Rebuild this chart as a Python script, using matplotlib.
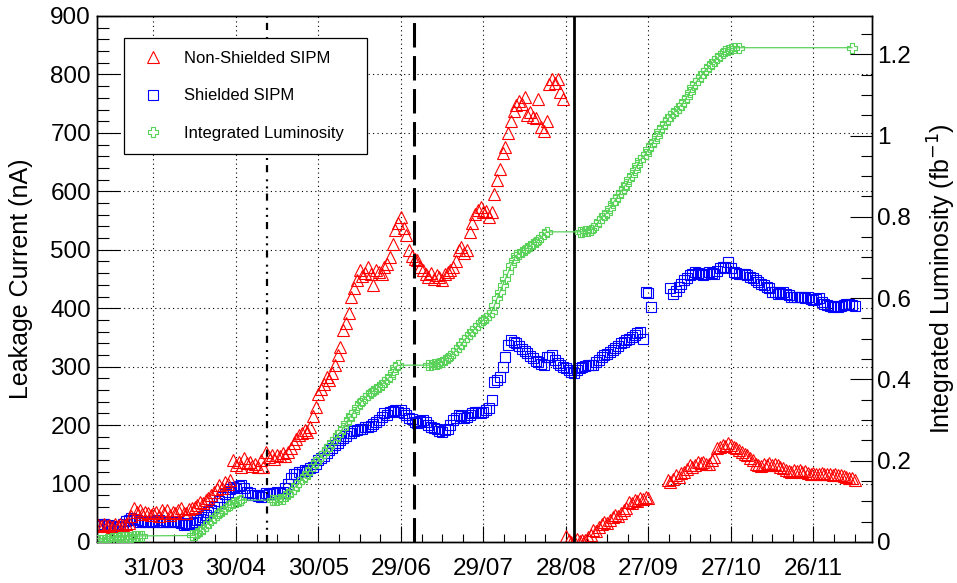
import matplotlib
matplotlib.use("Agg")
import matplotlib.pyplot as plt
from matplotlib.path import Path
from matplotlib.lines import Line2D
from matplotlib.ticker import MultipleLocator, FixedLocator, FuncFormatter

plt.rcParams['font.family'] = ['Liberation Sans', 'DejaVu Sans']

# ---------------- data (x = day of year 2011) ----------------
nonshielded_day = [
    70, 71, 72, 73, 74, 75, 76, 77, 78, 79, 80, 81, 82, 83, 84, 85, 86, 87, 88, 89,
    90, 91, 92, 93, 94, 95, 96, 97, 98, 99, 100, 101, 102, 103, 104, 105, 106, 107, 108, 109,
    110, 111, 112, 113, 114, 115, 116, 117, 118, 119, 120, 121, 122, 123, 124, 125, 126, 127, 128, 129,
    130, 131, 132, 133, 134, 135, 136, 137, 138, 139, 140, 141, 142, 143, 144, 145, 146, 147, 148, 149,
    150, 151, 152, 153, 154, 155, 156, 157, 158, 159, 160, 161, 162, 163, 164, 165, 166, 167, 168, 169,
    170, 171, 172, 173, 174, 175, 176, 177, 178, 179, 180, 181, 182, 183, 184, 185, 186, 187, 188, 189,
    190, 191, 192, 193, 194, 195, 196, 197, 198, 199, 200, 201, 202, 203, 204, 205, 206, 207, 208, 209,
    210, 211, 212, 213, 214, 215, 216, 217, 218, 219, 220, 221, 222, 223, 224, 225, 226, 227, 228, 229,
    230, 231, 232, 233, 234, 235, 236, 237, 238, 239, 240, 241, 242, 243, 244, 245, 246, 247, 248, 249,
    250, 251, 252, 253, 254, 255, 256, 257, 258, 259, 260, 261, 262, 263, 264, 265, 266, 267, 268, 269,
    270,
    277, 278, 279, 280, 281, 282, 283, 284, 285, 286, 287, 288, 289, 290, 291, 292, 293, 294, 295, 296,
    297, 298, 299, 300, 301, 302, 303, 304, 305, 306, 307, 308, 309, 310, 311, 312, 313, 314, 315, 316,
    317, 318, 319, 320, 321, 322, 323, 324, 325, 326, 327, 328, 329, 330, 331, 332, 333, 334, 335, 336,
    337, 338, 339, 340, 341, 342, 343, 344, 345]
nonshielded_nA = [
    29, 27, 30, 28, 29, 26, 30, 28, 31, 29, 30, 33, 45, 58, 52, 55, 48, 52, 50, 46,
    49, 52, 44, 55, 50, 55, 47, 52, 50, 54, 58, 50, 49, 56, 58, 60, 63, 69, 66, 72,
    75, 80, 86, 90, 97, 92, 103, 100, 106, 140, 132, 137, 128, 143, 135, 137, 130, 134, 128, 140,
    129, 154, 145, 149, 142, 149, 147, 152, 148, 154, 160, 170, 176, 183, 186, 191, 188, 197, 215, 231,
    254, 262, 270, 283, 277, 290, 302, 320, 334, 362, 375, 391, 419, 435, 448, 465, 455, 460, 470, 458,
    439, 465, 462, 458, 470, 475, 488, 510, 533, 545, 556, 537, 525, 500, 490, 485, 482, 470, 465, 458,
    453, 460, 450, 456, 453, 448, 458, 462, 465, 470, 480, 499, 505, 494, 500, 530, 545, 562, 568, 573,
    565, 567, 556, 565, 595, 620, 639, 665, 676, 700, 721, 738, 748, 755, 750, 761, 730, 735, 727, 725,
    758, 710, 704, 720, 784, 793, 785, 793, 770, 758, 10, 3, 0, 2, 5, 2, 4, 3, 8, 12,
    20, 18, 26, 30, 35, 33, 38, 42, 46, 44, 49, 55, 58, 69, 66, 72, 70, 75, 73, 77,
    75,
    106, 103, 108, 115, 112, 118, 120, 125, 132, 128, 132, 137, 135, 137, 133, 134, 140, 146, 160, 162,
    166, 164, 169, 166, 163, 160, 157, 154, 150, 149, 143, 140, 134, 132, 130, 134, 132, 135, 132, 134,
    131, 129, 126, 123, 121, 120, 123, 121, 123, 120, 122, 118, 117, 118, 117, 116, 118, 117, 116, 117,
    115, 116, 115, 114, 113, 112, 110, 109, 106]

shielded_day = [
    70, 71, 72, 73, 74, 75, 76, 77, 78, 79, 80, 81, 82, 83, 84, 85, 86, 87, 88, 89,
    90, 91, 92, 93, 94, 95, 96, 97, 98, 99, 100, 101, 102, 103, 104, 105, 106, 107, 108, 109,
    110, 111, 112, 113, 114, 115, 116, 117, 118, 119, 120, 121, 122, 123, 124, 125, 126, 127, 128, 129,
    130, 131, 132, 133, 134, 135, 136, 137, 138, 139, 140, 141, 142, 143, 144, 145, 146, 147, 148, 149,
    150, 151, 152, 153, 154, 155, 156, 157, 158, 159, 160, 161, 162, 163, 164, 165, 166, 167, 168, 169,
    170, 171, 172, 173, 174, 175, 176, 177, 178, 179, 180, 181, 182, 183, 184, 185, 186, 187, 188, 189,
    190, 191, 192, 193, 194, 195, 196, 197, 198, 199, 200, 201, 202, 203, 204, 205, 206, 207, 208, 209,
    210, 211, 212, 213, 214, 215, 216, 217, 218, 219, 220, 221, 222, 223, 224, 225, 226, 227, 228, 229,
    230, 231, 232, 233, 234, 235, 236, 237, 238, 239, 240, 241, 242, 243, 244, 245, 246, 247, 248, 249,
    250, 251, 252, 253, 254, 255, 256, 257, 258, 259, 260, 261, 262, 263, 264, 265, 266, 267, 268, 269,
    270, 271,
    278, 279, 280, 281, 282, 283, 284, 285, 286, 287, 288, 289, 290, 291, 292, 293, 294, 295, 296, 297,
    298, 299, 300, 301, 302, 303, 304, 305, 306, 307, 308, 309, 310, 311, 312, 313, 314, 315, 316, 317,
    318, 319, 320, 321, 322, 323, 324, 325, 326, 327, 328, 329, 330, 331, 332, 333, 334, 335, 336, 337,
    338, 339, 340, 341, 342, 343, 344, 345]
shielded_nA = [
    29, 27, 30, 28, 29, 26, 27, 28, 26, 30, 36, 38, 41, 40, 37, 35, 36, 34, 35, 36,
    34, 35, 37, 35, 34, 36, 35, 34, 36, 35, 33, 29, 31, 30, 32, 35, 38, 40, 43, 47,
    51, 55, 60, 66, 71, 77, 82, 86, 90, 94, 93, 96, 97, 92, 86, 84, 81, 80, 78, 77,
    80, 83, 82, 84, 83, 85, 84, 86, 92, 100, 110, 117, 116, 120, 119, 123, 122, 126, 129, 134,
    140, 143, 147, 152, 157, 161, 166, 170, 174, 178, 182, 186, 187, 190, 192, 194, 193, 196, 197, 199,
    202, 205, 209, 214, 220, 218, 222, 224, 226, 222, 226, 220, 217, 212, 210, 206, 204, 207, 209, 205,
    200, 197, 195, 194, 190, 189, 192, 194, 200, 209, 212, 217, 215, 212, 214, 218, 220, 222, 223, 221,
    223, 226, 230, 243, 274, 278, 283, 300, 317, 337, 345, 342, 340, 335, 331, 327, 323, 318, 314, 310,
    308, 305, 303, 317, 316, 320, 312, 306, 302, 300, 297, 294, 291, 290, 294, 297, 300, 301, 302, 303,
    303, 308, 312, 317, 320, 322, 325, 328, 332, 336, 340, 343, 345, 348, 351, 354, 357, 360, 348, 428,
    426, 402,
    434, 425, 430, 436, 442, 448, 452, 456, 459, 462, 460, 459, 456, 458, 462, 460, 459, 464, 468, 470,
    471, 479, 468, 462, 460, 459, 459, 458, 456, 453, 451, 448, 445, 441, 439, 436, 434, 428, 427, 425,
    426, 428, 424, 422, 420, 419, 419, 420, 419, 418, 419, 416, 414, 416, 417, 410, 408, 405, 404, 402,
    403, 402, 404, 405, 407, 408, 405, 404]

lumi_day = [
    70, 71, 72, 73, 74, 75, 76, 77, 78, 79, 80, 81, 82, 83, 84, 85, 86,
    104, 105, 106, 107, 108, 109, 110, 111, 112, 113, 114, 115, 116, 117, 118, 119, 120, 121, 122,
    133, 134, 135, 136, 137, 138, 139, 140, 141, 142, 143, 144, 145, 146, 147, 148, 149, 150, 151, 152,
    153, 154, 155, 156, 157, 158, 159, 160, 161, 162, 163, 164, 165, 166, 167, 168, 169, 170, 171, 172,
    173, 174, 175, 176, 177, 178, 179,
    190, 191, 192, 193, 194, 195, 196, 197, 198, 199, 200, 201, 202, 203, 204, 205, 206, 207, 208, 209,
    210, 211, 212, 213, 214, 215, 216, 217, 218, 219, 220, 221, 222, 223, 224, 225, 226, 227, 228, 229,
    230, 231, 232, 233,
    245, 246, 247, 248, 249, 250, 251, 252, 253, 254, 255, 256, 257, 258, 259, 260, 261, 262, 263, 264,
    265, 266, 267, 268, 269, 270, 271, 272, 273, 274, 275, 276, 277, 278, 279, 280, 281, 282, 283, 284,
    285, 286, 287, 288, 289, 290, 291, 292, 293, 294, 295, 296, 297, 298, 299, 300, 301,
    303, 344]
lumi_fb = [
    0.004, 0.005, 0.006, 0.007, 0.008, 0.009, 0.010, 0.011, 0.012, 0.012, 0.013, 0.013, 0.013, 0.014, 0.014, 0.015, 0.015,
    0.016, 0.018, 0.021, 0.026, 0.033, 0.040, 0.047, 0.054, 0.060, 0.066, 0.072, 0.077, 0.082, 0.088, 0.092, 0.096, 0.099, 0.101, 0.103,
    0.103, 0.103, 0.104, 0.105, 0.107, 0.112, 0.118, 0.124, 0.131, 0.139, 0.148, 0.155, 0.161, 0.170, 0.179, 0.188, 0.196, 0.203, 0.211, 0.219,
    0.228, 0.236, 0.245, 0.254, 0.262, 0.271, 0.281, 0.292, 0.303, 0.312, 0.321, 0.331, 0.341, 0.348, 0.355, 0.362, 0.367, 0.371, 0.376, 0.381,
    0.387, 0.393, 0.400, 0.407, 0.418, 0.430, 0.435,
    0.435, 0.436, 0.437, 0.438, 0.440, 0.443, 0.447, 0.452, 0.458, 0.465, 0.472, 0.479, 0.487, 0.496, 0.504, 0.512, 0.518, 0.526, 0.534, 0.540,
    0.546, 0.552, 0.558, 0.567, 0.582, 0.600, 0.615, 0.632, 0.647, 0.663, 0.682, 0.694, 0.705, 0.709, 0.714, 0.719, 0.723, 0.728, 0.733, 0.738,
    0.743, 0.750, 0.757, 0.763,
    0.763, 0.763, 0.764, 0.766, 0.768, 0.772, 0.780, 0.790, 0.797, 0.804, 0.810, 0.822, 0.833, 0.842, 0.852, 0.862, 0.872, 0.881, 0.893, 0.904,
    0.915, 0.928, 0.940, 0.947, 0.955, 0.966, 0.977, 0.987, 0.998, 1.010, 1.020, 1.030, 1.040, 1.049, 1.055, 1.061, 1.068, 1.076, 1.084, 1.095,
    1.107, 1.119, 1.128, 1.137, 1.146, 1.155, 1.162, 1.170, 1.177, 1.183, 1.190, 1.196, 1.202, 1.207, 1.211, 1.214, 1.215,
    1.216, 1.216]

tick_days = [90, 120, 150, 180, 210, 240, 270, 300, 330]
tick_labels = ["31/03", "30/04", "30/05", "29/06", "29/07", "28/08", "27/09", "27/10", "26/11"]
event_days = [131.2, 184.9, 242.8]

labels = ["Non-Shielded SIPM", "Shielded SIPM", "Integrated Luminosity"]

assert len(nonshielded_day) == len(nonshielded_nA)
assert len(shielded_day) == len(shielded_nA)
assert len(lumi_day) == len(lumi_fb)

# ---------------- style ----------------
RED = '#ff0000'
BLUE = '#0000ff'
GREEN = '#5ad25a'

w = 0.32
cross = Path([(-w, 1), (w, 1), (w, w), (1, w), (1, -w), (w, -w), (w, -1),
              (-w, -1), (-w, -w), (-1, -w), (-1, w), (-w, w), (-w, 1)],
             [Path.MOVETO] + [Path.LINETO] * 11 + [Path.CLOSEPOLY])

fig = plt.figure(figsize=(9.57, 5.83), dpi=100)
ax = fig.add_axes([97 / 957, 1 - 542 / 583, 775 / 957, 526 / 583])
ax2 = ax.twinx()

# grid
ax.grid(True, which='major', color='black', linestyle=(0, (1, 3)), linewidth=0.8)
ax.set_axisbelow(True)

ax.plot(shielded_day, shielded_nA, linestyle='none', marker='s', ms=7.4,
        mfc='none', mec=BLUE, mew=0.8, zorder=3)
ax.plot(nonshielded_day, nonshielded_nA, linestyle='none', marker='^', ms=8.0,
        mfc='none', mec=RED, mew=0.8, zorder=4)

# event lines
ax.axvline(event_days[0], color='black', lw=1.6,
           linestyle=(0, (3.2, 2.3, 0.9, 2.3, 0.9, 3.2)), zorder=5)
ax.axvline(event_days[1], color='black', lw=2.2, linestyle=(0, (8.0, 2.8)), zorder=5)
ax.axvline(event_days[2], color='black', lw=2.0, linestyle='-', zorder=5)

ax2.plot(lumi_day, lumi_fb, color=GREEN, lw=0.9, marker=cross, ms=7.6,
         mfc='none', mec=GREEN, mew=0.8, zorder=3)

# axes ranges
ax.set_xlim(69.5, 351.3)
ax.set_ylim(0, 900)
ax2.set_ylim(0, 1.294)

# x ticks
ax.xaxis.set_major_locator(FixedLocator(tick_days))
ax.set_xticklabels(tick_labels)
ax.xaxis.set_minor_locator(MultipleLocator(7.5))
ax.tick_params(axis='x', which='major', direction='in', length=11.5, width=0.8,
               labelsize=17.5, pad=11.5, top=False)
ax.tick_params(axis='x', which='minor', direction='in', length=5.8, width=0.8, top=False)

# left y ticks
ax.yaxis.set_major_locator(MultipleLocator(100))
ax.yaxis.set_minor_locator(MultipleLocator(20))
ax.tick_params(axis='y', which='major', direction='in', length=16.5, width=0.8,
               labelsize=17.5, pad=4.3, right=False)
ax.tick_params(axis='y', which='minor', direction='in', length=8.3, width=0.8, right=False)

# right y ticks
ax2.yaxis.set_major_locator(MultipleLocator(0.2))
ax2.yaxis.set_minor_locator(MultipleLocator(0.05))
ax2.yaxis.set_major_formatter(FuncFormatter(lambda v, p: f"{v:g}"))
ax2.tick_params(axis='y', which='major', direction='in', length=16.0, width=0.8,
                labelsize=17.5, pad=3.4)
ax2.tick_params(axis='y', which='minor', direction='in', length=8.0, width=0.8)

for a in (ax, ax2):
    for s in a.spines.values():
        s.set_linewidth(1.0)

ax.set_ylabel("Leakage Current (nA)", fontsize=18)
ax.yaxis.set_label_coords(-0.0826, 0.5)
ax2.set_ylabel("Integrated Luminosity (fb$^{-1}$)", fontsize=18, rotation=90)
ax2.yaxis.set_label_coords(1.069, 0.5)

handles = [
    Line2D([], [], linestyle='none', marker='^', ms=8.0, mfc='none', mec=RED, mew=0.8),
    Line2D([], [], linestyle='none', marker='s', ms=7.4, mfc='none', mec=BLUE, mew=0.8),
    Line2D([], [], linestyle='none', marker=cross, ms=7.6, mfc='none', mec=GREEN, mew=0.8),
]
leg = ax2.legend(handles, labels, loc='upper left',
                 bbox_to_anchor=(27 / 775, (542 - 38) / 526, 243 / 775, 0.0),
                 mode='expand', fontsize=12, frameon=True, fancybox=False,
                 framealpha=1, edgecolor='black', borderpad=0.78, handlelength=1.94,
                 handletextpad=0.87, labelspacing=1.35, borderaxespad=0.0)
leg.get_frame().set_linewidth(0.9)
leg.set_zorder(10)

fig.savefig("out.png", dpi=100)
